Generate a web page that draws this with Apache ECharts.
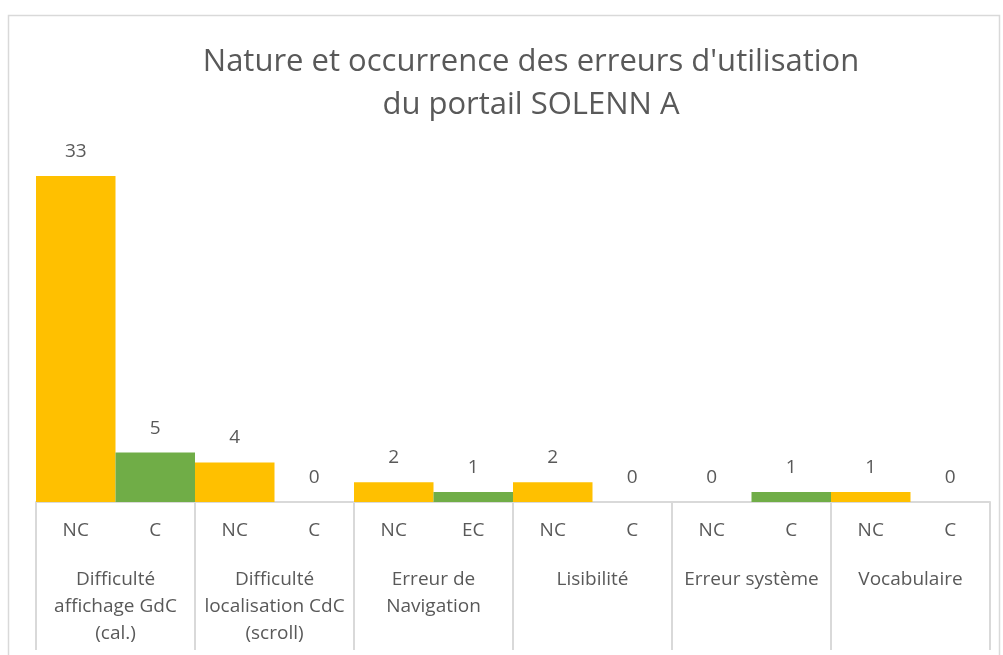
<!DOCTYPE html>
<html>
<head>
    <meta http-equiv="Content-Type" content="text/html; charset=utf-8"/>
    <script src="https://cdn.jsdelivr.net/npm/echarts@6/dist/echarts.min.js"></script>
    <style>
        html, body { margin: 0; padding: 0; background: #fff; }
    </style>
</head>
<body>

<div id="chart" style="width: 1003px; height: 655px;"></div>

<script type="text/javascript">
    // sous-catégories (une barre chacune)
    var subLabels = ['NC', 'C', 'NC', 'C', 'NC', 'EC', 'NC', 'C', 'NC', 'C', 'NC', 'C'];
    // groupes d'erreurs
    var groupLabels = [
        'Difficulté\naffichage GdC\n(cal.)',
        'Difficulté\nlocalisation CdC\n(scroll)',
        'Erreur de\nNavigation',
        'Lisibilité',
        'Erreur système',
        'Vocabulaire'
    ];
    // nombre d'erreurs
    var values = [33, 5, 4, 0, 2, 1, 2, 0, 0, 1, 1, 0];

    var textColor = '#595959';
    var lineColor = '#d9d9d9';
    var font = 'Open Sans';

    var chart = echarts.init(document.getElementById('chart'));
    var option = {
        animation: false,
        title: {
            text: "Nature et occurrence des erreurs d'utilisation\ndu portail SOLENN A",
            left: 526,
            textAlign: 'center',
            top: 36,
            textStyle: {
                fontFamily: font,
                fontSize: 31,
                fontWeight: 'normal',
                color: textColor,
                lineHeight: 43
            }
        },
        /* cadre du graphique */
        graphic: [{
            type: 'rect',
            shape: {x: 8.5, y: 15.5, width: 991, height: 700},
            style: {fill: null, stroke: lineColor, lineWidth: 1.5},
            silent: true
        }],
        grid: {
            left: 36,
            right: 13,
            top: 176,
            bottom: 153
        },
        xAxis: [{
            type: 'category',
            data: subLabels,
            axisLine: {lineStyle: {color: lineColor, width: 2}},
            axisTick: {show: false},
            axisLabel: {
                interval: 0,
                margin: 19,
                color: textColor,
                fontFamily: font,
                fontSize: 19
            }
        }, {
            type: 'category',
            data: groupLabels,
            position: 'bottom',
            axisLine: {show: false},
            axisTick: {
                show: true,
                interval: 0,
                length: 148,
                lineStyle: {color: lineColor, width: 2}
            },
            axisLabel: {
                interval: 0,
                margin: 64,
                color: textColor,
                fontFamily: font,
                fontSize: 19,
                lineHeight: 27
            }
        }],
        yAxis: {
            type: 'value',
            min: 0,
            max: 33,
            show: false,
            splitLine: {show: false}
        },
        series: [{
            type: 'bar',
            xAxisIndex: 0,
            data: values,
            barWidth: '100%',
            barCategoryGap: 0,
            itemStyle: {
                // NC en jaune, C / EC en vert
                color: function (p) {
                    return p.dataIndex % 2 === 0 ? '#ffc000' : '#70ad47';
                }
            },
            label: {
                show: true,
                position: 'top',
                distance: 15,
                color: textColor,
                fontFamily: font,
                fontSize: 19
            }
        }]
    };

    chart.setOption(option);
</script>

</body>
</html>
